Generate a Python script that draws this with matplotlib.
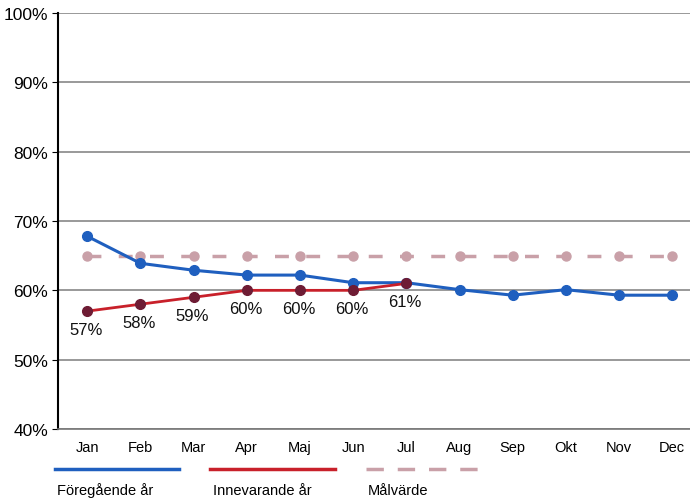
import matplotlib.pyplot as plt
from matplotlib.lines import Line2D

plt.rcParams['font.family'] = ['Liberation Sans', 'DejaVu Sans']

months = ['Jan', 'Feb', 'Mar', 'Apr', 'Maj', 'Jun', 'Jul', 'Aug', 'Sep', 'Okt', 'Nov', 'Dec']
prev_year = [67.8, 63.9, 62.9, 62.2, 62.2, 61.1, 61.1, 60.1, 59.3, 60.1, 59.3, 59.3]
curr_year = [57, 58, 59, 60, 60, 60, 61]
curr_labels = ['57%', '58%', '59%', '60%', '60%', '60%', '61%']
target = [65] * 12
series_names = ['Föregående år', 'Innevarande år', 'Målvärde']

blue = '#1f5fbf'
red = '#c8202a'
red_mk = '#6e1c34'
mauve = '#c9a0a8'

fig = plt.figure(figsize=(6.9, 5.02), dpi=100)
ax = fig.add_axes([0.084, 0.1434, 0.925, 0.8287])

x = list(range(len(months)))
ax.plot(x, target, color=mauve, lw=2.5, ls=(0, (4, 5)), marker='o', ms=6.5,
        mfc=mauve, mec=mauve, zorder=2)
ax.plot(x, prev_year, color=blue, lw=2.2, marker='o', ms=7, mfc=blue, mec=blue, zorder=3)
xc = list(range(len(curr_year)))
ax.plot(xc, curr_year, color=red, lw=2.0, marker='o', ms=7, mfc=red_mk, mec=red_mk, zorder=4)

for xi, yi, lab in zip(xc, curr_year, curr_labels):
    ax.annotate(lab, (xi, yi), xytext=(-1, -13), textcoords='offset points',
                ha='center', va='center', fontsize=12, color='#111111')

ax.set_xlim(-0.55, 11.45)
ax.set_ylim(40, 100)
ax.set_yticks(range(40, 101, 10))
ax.set_yticklabels([f'{v}%' for v in range(40, 101, 10)], fontsize=12.5)
ax.set_xticks(x)
ax.set_xticklabels(months, fontsize=10.5)
ax.tick_params(axis='x', length=0, pad=8)
ax.tick_params(axis='y', length=4, pad=3)
ax.grid(axis='y', color='#888888', lw=1.2)
ax.set_axisbelow(True)
for s in ['top', 'right']:
    ax.spines[s].set_visible(False)
ax.spines['left'].set_color('black')
ax.spines['left'].set_linewidth(1.5)
ax.spines['bottom'].set_color('#777777')
ax.spines['bottom'].set_linewidth(1.2)

# legend below the plot: line sample above each name
leg_specs = [(blue, '-'), (red, '-'), (mauve, (0, (5, 4)))]
lx = [0.08, 0.305, 0.53]
for (c, ls), name, x0 in zip(leg_specs, series_names, lx):
    fig.add_artist(Line2D([x0, x0 + 0.18], [0.064, 0.064], color=c, lw=2.5, ls=ls,
                          transform=fig.transFigure))
    fig.text(x0 + 0.003, 0.022, name, fontsize=10.5, ha='left', va='center')

fig.savefig('out.png', dpi=100)
